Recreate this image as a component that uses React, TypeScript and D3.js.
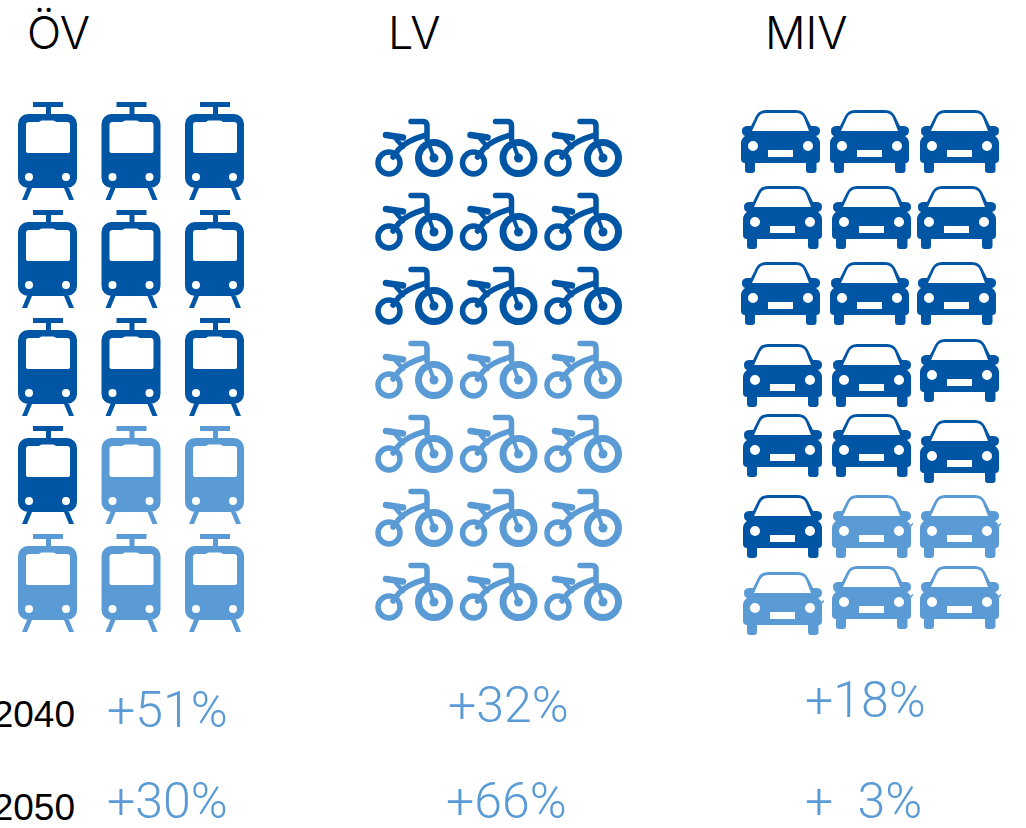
import React from 'react';
import * as d3 from 'd3';

// data: how many icons are dark, in reading order
const modes = ['ÖV', 'LV', 'MIV'];
const iconRows = [5, 7, 7];
const iconCols = 3;
const darkCounts = [10, 9, 16];
const years = ['2040', '2050'];
const share2040 = ['+51%', '+32%', '+18%'];
const share2050 = ['+30%', '+66%', '+  3%'];

const DARK = '#0055a5';
const LIGHT = '#5b9bd5';
const FONT = 'Roboto, sans-serif';

// the car icons were placed by hand in the original, so each one is a bit off the grid
const carNudgeX = [
  [0, 0, 1],
  [2, 2, -2],
  [0, 0, -2],
  [2, 2, 1],
  [2, 2, 1],
  [2, 2, 1],
  [2, 2, 1],
];
const carNudgeY = [
  [0, 0, 0],
  [0, 0, 0],
  [0, 0, 0],
  [0, 0, -5],
  [0, 0, 6],
  [0, 0, 0],
  [6, 0, 0],
];

const tramPath =
  'M15 0H45V5H33V12H49A10 10 0 0 1 59 22V76A10 10 0 0 1 49 86H51L56 98H51L46 86H14L9 98H4L9 86H10A10 10 0 0 1 0 76V22A10 10 0 0 1 10 12H28V5H15Z' +
  'M11 20Q8 20 8 23V49Q8 51 10 51H50Q52 51 52 49V23Q52 20 49 20H38Q37 18.5 35 18.5H24Q22 18.5 21 20Z' +
  'M11 71A4 4 0 1 0 11 79A4 4 0 1 0 11 71Z' +
  'M48 71A4 4 0 1 0 48 79A4 4 0 1 0 48 71Z';

const carPath =
  'M10 16L15 6Q18 0 25 0H55Q62 0 65 6L70 16H73Q79 16 79 20.5Q79 25 75 26Q79 29 79 33V49Q79 53 75.5 53V60Q75.5 63 72.5 63H68Q65 63 65 60V53H14V60Q14 63 11 63H7Q4 63 4 60V53Q0 53 0 49V33Q0 29 4 26Q1 25 1 20.5Q1 16 7 16Z' +
  'M11 21H68L63 8Q61 3 55 3H25Q19 3 17 8Z' +
  'M12 31A5 5 0 1 0 12 41A5 5 0 1 0 12 31Z' +
  'M67 31A5 5 0 1 0 67 41A5 5 0 1 0 67 31Z' +
  'M27 40H52V47H27Z';

const Tram = ({ x, y, color }: { x: number; y: number; color: string }) => (
  <path transform={`translate(${x},${y})`} d={tramPath} fill={color} fillRule="evenodd" />
);

const Car = ({ x, y, color }: { x: number; y: number; color: string }) => (
  <g transform={`translate(${x},${y})`} fill={color}>
    <path d={carPath} fillRule="evenodd" />
    {/* the pale copies in the original have a small burr on the right */}
    {color === LIGHT && <path d="M78 30L81 28V29.5L79 32Z" />}
  </g>
);

const Bike = ({ x, y, color }: { x: number; y: number; color: string }) => (
  <g transform={`translate(${x},${y})`} fill="none" stroke={color} strokeLinecap="round" strokeLinejoin="round">
    <circle cx={13} cy={44} r={11} strokeWidth={5.5} />
    <circle cx={58} cy={39} r={15.5} strokeWidth={7} />
    <circle cx={58} cy={39} r={4.5} fill={color} stroke="none" />
    <path d="M35 2.5H47Q51 2.5 51 7V20" strokeWidth={5.5} />
    <path d="M51 20L58 39" strokeWidth={4} />
    <path d="M50 16Q30 22 23 30L17 38" strokeWidth={5.5} />
    <path d="M10 16L27 18.5" strokeWidth={6.5} />
    <path d="M20 20L27 28" strokeWidth={4.5} />
  </g>
);

const App = () => {
  // one x/y scale per icon group, row/column index to top-left corner of the icon
  const tramX = d3.scaleLinear().domain([0, 2]).range([18, 185]);
  const tramY = d3.scaleLinear().domain([0, 4]).range([102, 534]);
  const bikeX = d3.scaleLinear().domain([0, 2]).range([376, 545]);
  const bikeY = d3.scaleLinear().domain([0, 6]).range([119, 563]);
  const carX = d3.scaleLinear().domain([0, 2]).range([741, 919]);
  const carY = d3.scaleOrdinal<number, number>().domain(d3.range(7)).range([110, 186, 262, 344, 414, 495, 566]);

  const titleX = d3.scaleOrdinal<string, number>().domain(modes).range([27, 388, 765]);
  const shareX2040 = d3.scaleOrdinal<string, number>().domain(modes).range([107, 448, 805]);
  const shareX2050 = d3.scaleOrdinal<string, number>().domain(modes).range([107, 446, 805]);
  const shareY2040 = d3.scaleOrdinal<string, number>().domain(modes).range([726.5, 721.5, 716.5]);
  const yearY = d3.scaleOrdinal<string, number>().domain(years).range([727, 820]);

  const cells = (groupIndex: number) =>
    d3.range(iconRows[groupIndex]).flatMap((row) =>
      d3.range(iconCols).map((col) => ({
        row,
        col,
        color: row * iconCols + col < darkCounts[groupIndex] ? DARK : LIGHT,
      }))
    );

  return (
    <svg
      width={1026}
      height={828}
      style={{ position: 'absolute', left: 0, top: 0, background: '#fff' }}
    >
      {modes.map((m) => (
        <text key={m} x={titleX(m)} y={49} fontFamily="Inter, sans-serif" fontWeight={300} fontSize={45} fill="#000">
          {m}
        </text>
      ))}

      {cells(0).map((d) => (
        <Tram key={`${d.row}-${d.col}`} x={tramX(d.col)} y={tramY(d.row)} color={d.color} />
      ))}
      {cells(1).map((d) => (
        <Bike key={`${d.row}-${d.col}`} x={bikeX(d.col)} y={bikeY(d.row)} color={d.color} />
      ))}
      {cells(2).map((d) => (
        <Car
          key={`${d.row}-${d.col}`}
          x={carX(d.col) + carNudgeX[d.row][d.col]}
          y={carY(d.row) + carNudgeY[d.row][d.col]}
          color={d.color}
        />
      ))}

      {years.map((y) => (
        <text
          key={y}
          x={75}
          y={yearY(y)}
          textAnchor="end"
          fontFamily="'Liberation Sans', Arial, sans-serif"
          fontSize={37}
          fill="#000"
        >
          {y}
        </text>
      ))}

      {modes.map((m, i) => (
        <text key={m} x={shareX2040(m)} y={shareY2040(m)} fontFamily={FONT} fontWeight={300} fontSize={50} fill={LIGHT} style={{ whiteSpace: 'pre' }}>
          {share2040[i]}
        </text>
      ))}
      {modes.map((m, i) => (
        <text key={m} x={shareX2050(m)} y={818} fontFamily={FONT} fontWeight={300} fontSize={50} fill={LIGHT} style={{ whiteSpace: 'pre' }}>
          {share2050[i]}
        </text>
      ))}
    </svg>
  );
};

export default App;
